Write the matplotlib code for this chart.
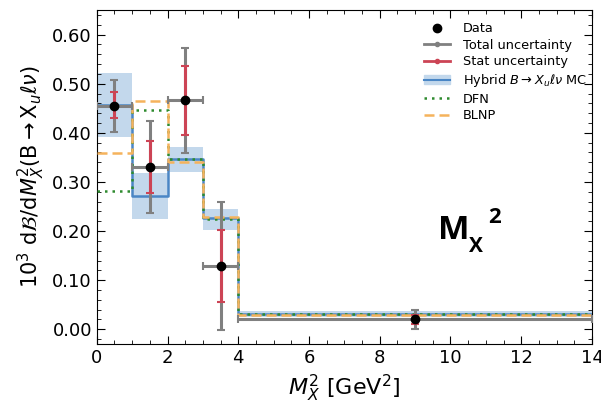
import numpy as np
import matplotlib.pyplot as plt
from matplotlib.patches import Patch
from matplotlib.lines import Line2D
from matplotlib.ticker import MultipleLocator

# bin edges in M_X^2 [GeV^2]
edges = [0, 1, 2, 3, 4, 14]
centers = [0.5, 1.5, 2.5, 3.5, 9.0]

# measured values and uncertainties (x 10^3)
data = [0.455, 0.331, 0.466, 0.129, 0.020]
tot_up = [0.053, 0.093, 0.107, 0.130, 0.019]
tot_dn = [0.053, 0.094, 0.107, 0.130, 0.019]
stat_up = [0.029, 0.053, 0.071, 0.073, 0.010]
stat_dn = [0.024, 0.053, 0.070, 0.074, 0.010]

# MC predictions per bin
hybrid = [0.457, 0.271, 0.347, 0.226, 0.031]
hybrid_lo = [0.392, 0.224, 0.320, 0.202, 0.025]
hybrid_hi = [0.522, 0.318, 0.371, 0.245, 0.037]
dfn = [0.282, 0.447, 0.347, 0.224, 0.031]
blnp = [0.359, 0.465, 0.341, 0.228, 0.030]

c_gray = '#808080'
c_red = '#cc4455'
c_blue = '#4a86c5'
c_band = '#c3d8ec'
c_green = '#2e8b2e'
c_orange = '#f5b35c'


def step(vals):
    return list(vals) + [vals[-1]]


fig = plt.figure(figsize=(6.01, 4.18), dpi=100)
ax = fig.add_axes([0.161, 0.177, 0.824, 0.799])

widths = np.diff(edges)
for i in range(len(widths)):
    ax.fill_between([edges[i], edges[i + 1]], hybrid_lo[i], hybrid_hi[i],
                    color=c_band, lw=0, zorder=1)

ax.step(edges, step(hybrid), where='post', color=c_blue, lw=1.8, zorder=2)
ax.step(edges, step(dfn), where='post', color=c_green, lw=1.8, ls=(0, (1, 2)), zorder=3)
ax.step(edges, step(blnp), where='post', color=c_orange, lw=1.8, ls=(0, (4, 2)), zorder=3)

ax.errorbar(centers, data, xerr=widths / 2, yerr=[tot_dn, tot_up], fmt='none',
            ecolor=c_gray, elinewidth=2.2, capsize=3, capthick=1.5, zorder=4)
ax.errorbar(centers, data, yerr=[stat_dn, stat_up], fmt='none',
            ecolor=c_red, elinewidth=2.2, capsize=3, capthick=1.5, zorder=5)
ax.plot(centers, data, 'o', color='black', ms=6, zorder=6)

ax.set_xlim(0, 14)
ax.set_ylim(-0.03, 0.65)
ax.xaxis.set_major_locator(MultipleLocator(2))
ax.xaxis.set_minor_locator(MultipleLocator(0.5))
ax.yaxis.set_major_locator(MultipleLocator(0.1))
ax.yaxis.set_minor_locator(MultipleLocator(0.02))
ax.yaxis.set_major_formatter(plt.FormatStrFormatter('%.2f'))
ax.tick_params(which='both', direction='in', top=True, right=True, labelsize=13)
ax.tick_params(which='major', length=6)
ax.tick_params(which='minor', length=3)

ax.set_xlabel(r'$M_X^2$ [GeV$^2$]', fontsize=16)
ax.set_ylabel(r'$10^3\ \mathrm{d}\mathcal{B}/\mathrm{d}M_X^2(\mathrm{B}\to\mathrm{X}_u\ell\nu)$',
              fontsize=15)

# big panel tag
ax.text(9.64, 0.184, 'M', fontsize=24, fontweight='bold', family='Open Sans', va='baseline')
ax.text(10.52, 0.157, 'X', fontsize=15, fontweight='bold', family='Open Sans', va='baseline')
ax.text(11.06, 0.216, '2', fontsize=16, fontweight='bold', family='Open Sans', va='baseline')

handles = [
    Line2D([], [], ls='none', marker='o', color='black', ms=6),
    Line2D([], [], color=c_gray, lw=2, marker='o', ms=3),
    Line2D([], [], color=c_red, lw=2, marker='o', ms=3),
    (Patch(color=c_band), Line2D([], [], color=c_blue, lw=1.5)),
    Line2D([], [], color=c_green, lw=1.8, ls=(0, (1, 2))),
    Line2D([], [], color=c_orange, lw=1.8, ls=(0, (4, 2))),
]
labels = ['Data', 'Total uncertainty', 'Stat uncertainty',
          r'Hybrid $B\to X_u\ell\nu$ MC', 'DFN', 'BLNP']
ax.legend(handles, labels, loc='upper right', bbox_to_anchor=(1.0, 0.979),
          frameon=False, fontsize=9.3, handlelength=2.0, handletextpad=1.0,
          labelspacing=0.28, borderaxespad=0.0)

fig.savefig('out.png', dpi=100)
